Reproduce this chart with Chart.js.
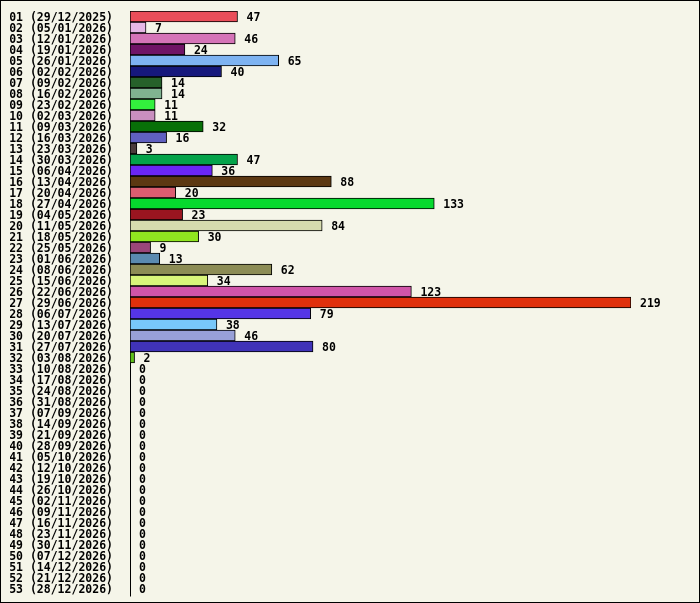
<!DOCTYPE html>
<html>
<head>
<meta charset="utf-8">
<script src="https://cdn.jsdelivr.net/npm/chart.js@4.4.1/dist/chart.umd.min.js"></script>
<style>
  body { margin: 0; background: #ffffff; }
  #chart { display: block; }
</style>
</head>
<body>
<canvas id="chart" width="700" height="603"></canvas>
<script>
// week number + monday of the week
var weeks = [
    "01 (29/12/2025)", "02 (05/01/2026)", "03 (12/01/2026)", "04 (19/01/2026)",
    "05 (26/01/2026)", "06 (02/02/2026)", "07 (09/02/2026)", "08 (16/02/2026)",
    "09 (23/02/2026)", "10 (02/03/2026)", "11 (09/03/2026)", "12 (16/03/2026)",
    "13 (23/03/2026)", "14 (30/03/2026)", "15 (06/04/2026)", "16 (13/04/2026)",
    "17 (20/04/2026)", "18 (27/04/2026)", "19 (04/05/2026)", "20 (11/05/2026)",
    "21 (18/05/2026)", "22 (25/05/2026)", "23 (01/06/2026)", "24 (08/06/2026)",
    "25 (15/06/2026)", "26 (22/06/2026)", "27 (29/06/2026)", "28 (06/07/2026)",
    "29 (13/07/2026)", "30 (20/07/2026)", "31 (27/07/2026)", "32 (03/08/2026)",
    "33 (10/08/2026)", "34 (17/08/2026)", "35 (24/08/2026)", "36 (31/08/2026)",
    "37 (07/09/2026)", "38 (14/09/2026)", "39 (21/09/2026)", "40 (28/09/2026)",
    "41 (05/10/2026)", "42 (12/10/2026)", "43 (19/10/2026)", "44 (26/10/2026)",
    "45 (02/11/2026)", "46 (09/11/2026)", "47 (16/11/2026)", "48 (23/11/2026)",
    "49 (30/11/2026)", "50 (07/12/2026)", "51 (14/12/2026)", "52 (21/12/2026)",
    "53 (28/12/2026)"
];

var counts = [
    47, 7, 46, 24, 65, 40, 14, 14, 11, 11, 32, 16, 3, 47, 36, 88,
    20, 133, 23, 84, 30, 9, 13, 62, 34, 123, 219, 79, 38, 46, 80, 2,
    0, 0, 0, 0, 0, 0, 0, 0, 0, 0, 0, 0, 0, 0, 0, 0, 0, 0, 0, 0, 0
];

var barColors = [
    "#ea4e5a", "#e6b8e6", "#d574b8", "#701466", "#7eb3f2", "#16187c",
    "#26612a", "#80b390", "#33f03d", "#c98fbf", "#087008", "#6060c0",
    "#4a3a3a", "#04a34a", "#6a26f5", "#5c3812", "#db5d70", "#06d92e",
    "#9a1520", "#d6dbae", "#90e620", "#9a467a", "#5a8ab0", "#8c8c55",
    "#d8f57a", "#d055a8", "#e0300c", "#5535e6", "#78c8fa", "#98a0d8",
    "#4033b8", "#5fc01a", "#888888", "#888888", "#888888", "#888888",
    "#888888", "#888888", "#888888", "#888888", "#888888", "#888888",
    "#888888", "#888888", "#888888", "#888888", "#888888", "#888888",
    "#888888", "#888888", "#888888", "#888888", "#888888"
];

var FONT = "'DejaVu Sans Mono', monospace";

// background + frame, and nudge the axis labels down a bit
var framePlugin = {
    id: 'frame',
    beforeDraw: function(chart) {
        var ctx = chart.ctx;
        ctx.save();
        ctx.fillStyle = '#f5f5e9';
        ctx.fillRect(0, 0, chart.width, chart.height);
        ctx.restore();
        ctx.save();
        ctx.translate(0, 1.5);
    },
    beforeDatasetsDraw: function(chart) {
        chart.ctx.restore();
    },
    afterDraw: function(chart) {
        var ctx = chart.ctx;
        ctx.save();
        ctx.strokeStyle = '#000';
        ctx.lineWidth = 1;
        ctx.strokeRect(0.5, 0.5, chart.width - 1, chart.height - 1);
        ctx.restore();
    }
};

// value next to each bar
var valuePlugin = {
    id: 'values',
    afterDatasetsDraw: function(chart) {
        var ctx = chart.ctx;
        var meta = chart.getDatasetMeta(0);
        ctx.save();
        ctx.font = "bold 11.5px " + FONT;
        ctx.fillStyle = '#000';
        ctx.textAlign = 'left';
        ctx.textBaseline = 'middle';
        meta.data.forEach(function(bar, i) {
            ctx.fillText(String(counts[i]), bar.x + 9, bar.y + 2);
        });
        ctx.restore();
    }
};

var ctx = document.getElementById('chart').getContext('2d');
var chart = new Chart(ctx, {
    type: 'bar',
    data: {
        labels: weeks,
        datasets: [{
            data: counts,
            backgroundColor: barColors,
            borderColor: '#000',
            borderWidth: 1,
            borderSkipped: false,
            barPercentage: 1,
            categoryPercentage: 1
        }]
    },
    options: {
        indexAxis: 'y',
        responsive: false,
        devicePixelRatio: 1,
        animation: false,
        layout: {
            padding: { left: 10, right: 69, top: 11, bottom: 9 }
        },
        plugins: {
            legend: { display: false },
            tooltip: { enabled: false }
        },
        scales: {
            x: {
                display: false,
                min: 0,
                max: Math.max.apply(null, counts)
            },
            y: {
                afterFit: function(scale) {
                    scale.width = 120;
                    scale.paddingTop = 0;
                    scale.paddingBottom = 0;
                },
                grid: { display: false, drawTicks: false },
                border: { display: true, color: '#000', width: 1 },
                ticks: {
                    autoSkip: false,
                    color: '#000',
                    padding: 17,
                    font: { family: FONT, size: 11.5, weight: 'bold' }
                }
            }
        }
    },
    plugins: [framePlugin, valuePlugin]
});
</script>
</body>
</html>
